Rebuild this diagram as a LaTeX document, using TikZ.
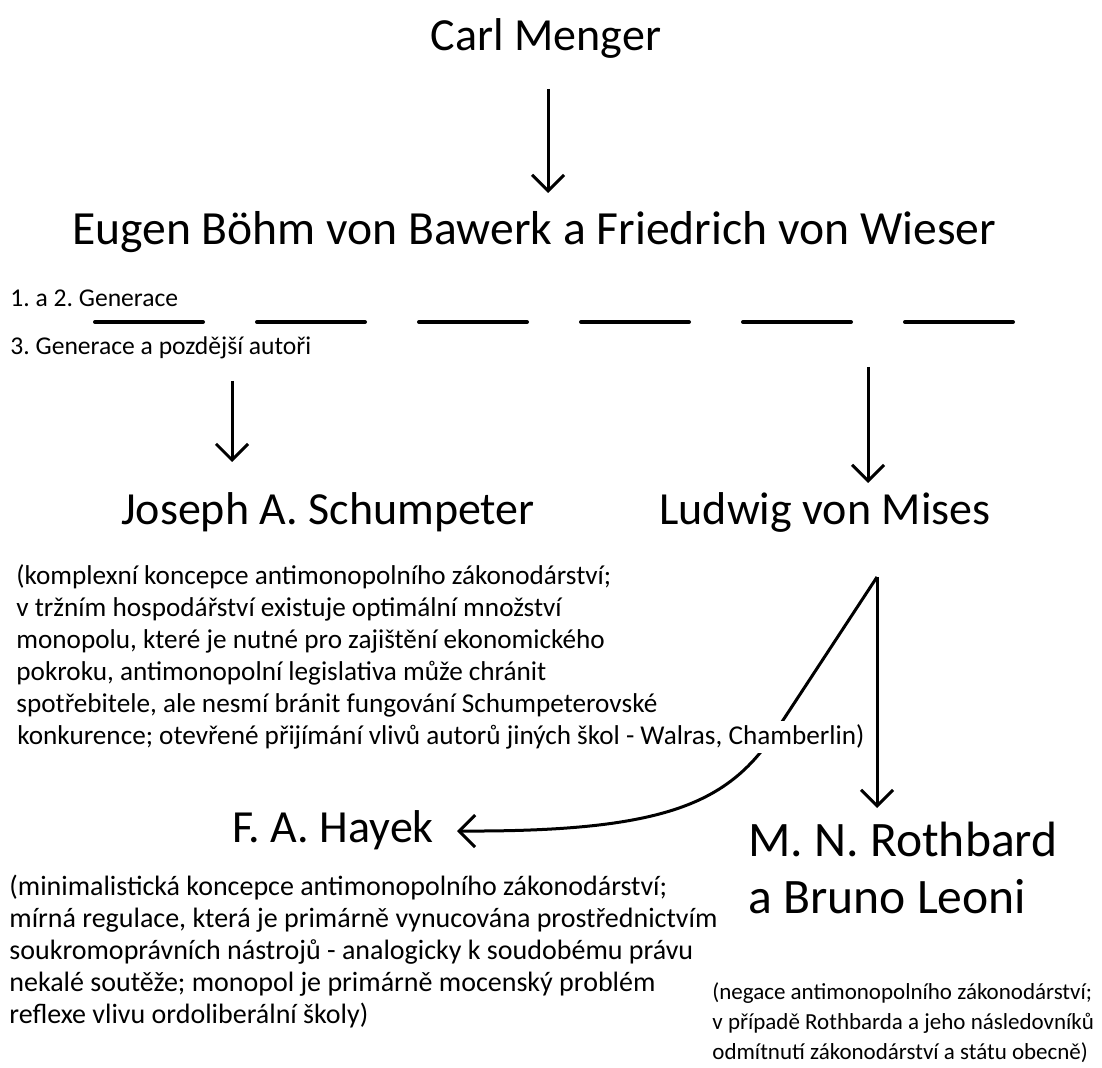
\documentclass[tikz,border=0pt]{standalone}
\usepackage{fontspec}
\setmainfont{Carlito}
\usetikzlibrary{arrows.meta}
\begin{document}
\frenchspacing
\begin{tikzpicture}[x=0.5pt,y=-0.5pt,
  big/.style={font=\fontsize{23}{26.5}\selectfont, inner sep=0pt},
  para/.style={font=\fontsize{13.6}{16}\selectfont, align=left, anchor=west, inner sep=0pt},
  hpara/.style={font=\fontsize{14}{16}\selectfont, align=left, anchor=west, inner sep=0pt},
  smallpara/.style={font=\fontsize{11.5}{15}\selectfont, align=left, anchor=west, inner sep=0pt},
  lab/.style={font=\fontsize{12.8}{15}\selectfont, anchor=west, inner sep=0pt},
  arr/.style={line width=1.5pt, -{Straight Barb[length=8pt,width=16pt,line width=1.5pt]}},
  sepline/.style={line width=2pt, line cap=round}
]
\useasboundingbox (0,0) rectangle (1102,1068);

% main names
\node[big] (menger) at (546,38) {Carl Menger};
\node[big, font=\fontsize{23.8}{27}\selectfont] (bawerk) at (534,232) {Eugen Böhm von Bawerk a Friedrich von Wieser};
\node[big] (schum) at (328,512) {Joseph A. Schumpeter};
\node[big] (mises) at (825,512) {Ludwig von Mises};
\node[big] (hayek) at (333,830) {F. A. Hayek};
\node[big, font=\fontsize{24.8}{28.5}\selectfont, align=left, anchor=west] (roth) at (748,868) {M. N. Rothbard\\a Bruno Leoni};

% generation labels and separator
\node[lab] (g12) at (10,298) {1. a 2. Generace};
\node[lab] (g3) at (10,348) {3. Generace a pozdější autoři};
\foreach \i in {0,...,5}
  \draw[sepline] ({95+162*\i},322) -- ({203+162*\i},322);

% paragraphs
\node[para] (schpar) at (16,641) {(komplexní koncepce antimonopolního zákonodárství;\\
v tržním hospodářství existuje optimální množství\\
monopolu, které je nutné pro zajištění ekonomického\\
pokroku, antimonopolní legislativa může chránit\\
spotřebitele, ale nesmí bránit fungování Schumpeterovské};
\node[hpara] (haypar) at (9,952) {(minimalistická koncepce antimonopolního zákonodárství;\\
mírná regulace, která je primárně vynucována prostřednictvím\\
soukromoprávních nástrojů - analogicky k soudobému právu\\
nekalé soutěže; monopol je primárně mocenský problém\\
reflexe vlivu ordoliberální školy)};
\node[smallpara] (rothpar) at (712,1023) {(negace antimonopolního zákonodárství;\\
v případě Rothbarda a jeho následovníků\\
odmítnutí zákonodárství a státu obecně)};

% arrows
\coordinate (m1) at (548,89);   \coordinate (m2) at (548,193);
\coordinate (s1) at (232,381);  \coordinate (s2) at (232,462);
\coordinate (v1) at (868,367);  \coordinate (v2) at (868,483);
\coordinate (apex) at (877,577); \coordinate (r2) at (877,808);
\coordinate (h2) at (457,831);
\draw[arr] (m1) -- (m2);
\draw[arr] (s1) -- (s2);
\draw[arr] (v1) -- (v2);
\draw[arr, line join=round] (apex) -- (772,737) .. controls (725,805) and (660,832) .. (h2);

% last line of Schumpeter paragraph over the curve
\node[para, fill=white, inner ysep=2pt, inner xsep=1pt] (schlast) at (15,737) {konkurence; otevřené přijímání vlivů autorů jiných škol - Walras, Chamberlin)};

\draw[arr] (apex) -- (r2);
\end{tikzpicture}
\end{document}
